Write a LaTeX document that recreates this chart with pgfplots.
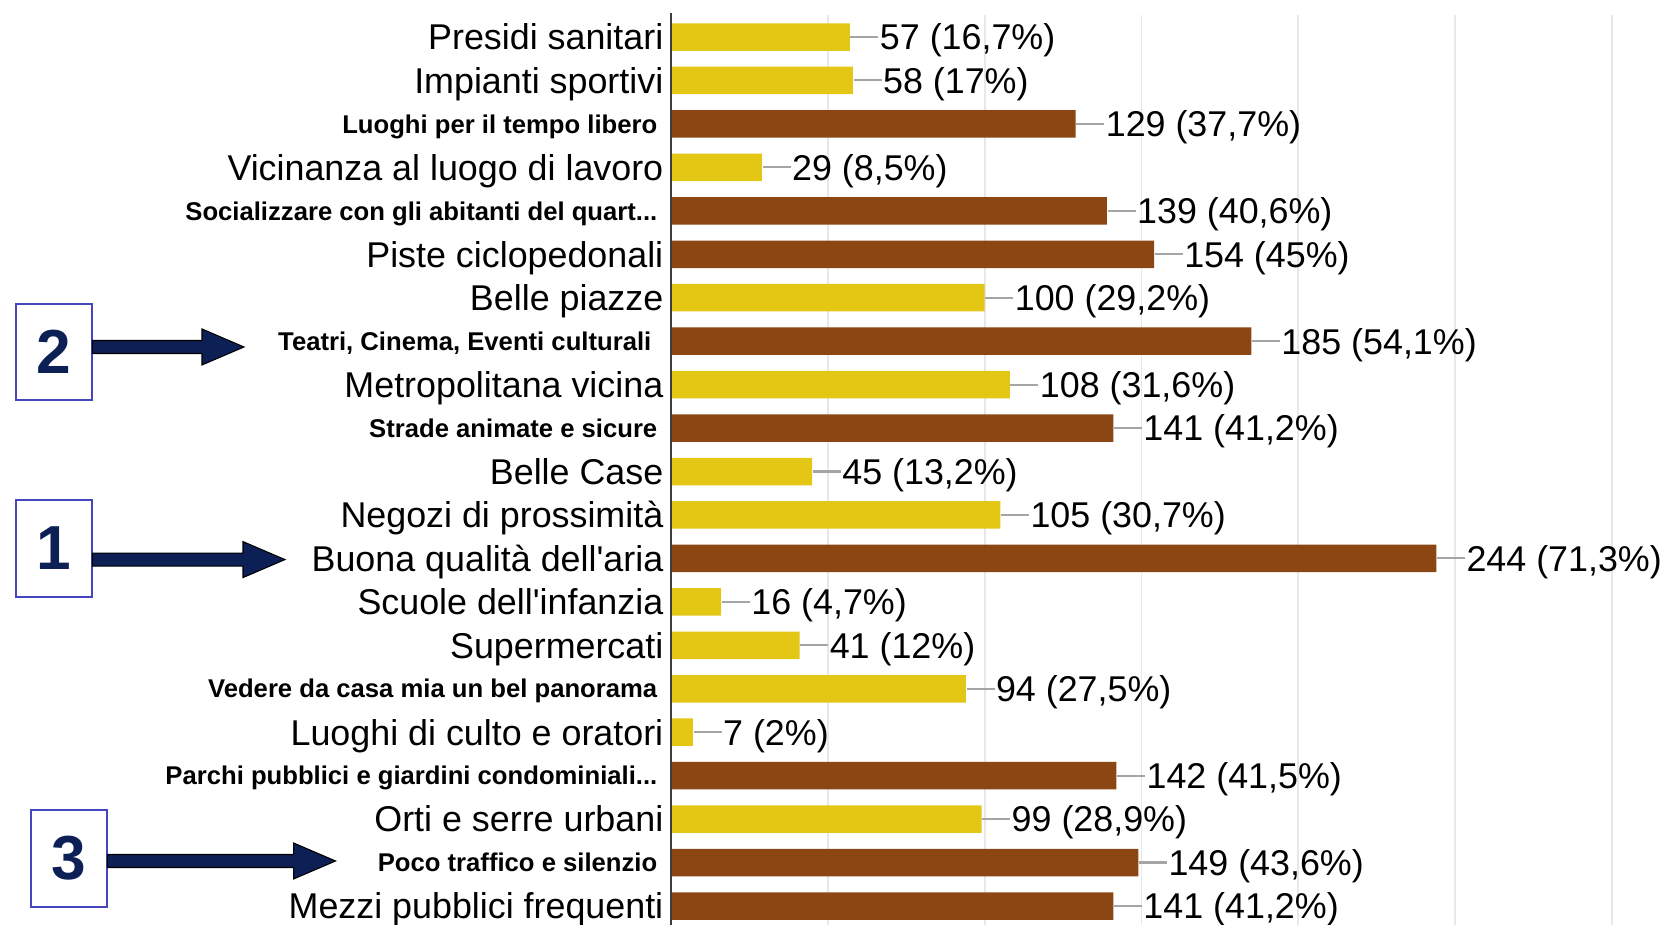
\documentclass[border=0pt]{standalone}
\usepackage{fontspec}
\setmainfont{Liberation Sans}
\usepackage{pgfplots}
\pgfplotsset{compat=1.18}
\definecolor{ybar}{RGB}{228,198,20}
\definecolor{bbar}{RGB}{139,70,20}
\definecolor{navy}{RGB}{12,32,85}
\definecolor{boxblue}{RGB}{70,70,190}
\definecolor{leader}{RGB}{165,165,165}
\definecolor{gridc}{RGB}{232,232,232}
\definecolor{axc}{RGB}{60,60,60}
\newcommand\R[1]{{\fontsize{10.2}{12}\selectfont\rule[-0.284em]{0pt}{1.284em}#1}}
\newcommand\B[1]{{\fontsize{7.3}{9}\selectfont\bfseries\rule[-0.284em]{0pt}{1.284em}#1\kern0.6mm}}
\newcommand\V[1]{{\fontsize{10.2}{12}\selectfont\textcolor{leader}{\rule[0.33em]{2.8mm}{0.6pt}}\hspace{0.15mm}\rule[-0.284em]{0pt}{1.284em}#1}}
\newcommand\arrowshape[3]{% x0, xtip, y (in mm)
  \fill[navy, draw=black, line width=0.3pt]
    (#1mm,#3mm-0.65mm) -- (#2mm-4.2mm,#3mm-0.65mm) -- (#2mm-4.2mm,#3mm-1.8mm)
    -- (#2mm,#3mm) -- (#2mm-4.2mm,#3mm+1.8mm) -- (#2mm-4.2mm,#3mm+0.65mm)
    -- (#1mm,#3mm+0.65mm) -- cycle;}
\begin{document}
\begin{tikzpicture}
\useasboundingbox (0,0) rectangle (166.5mm,92.5mm);
\begin{axis}[
  at={(67.1mm,90.97mm)}, anchor=north west,
  scale only axis, width=94.1mm, height=91.25mm,
  xbar, bar width=2.75mm, bar shift=0pt,
  xmin=0, xmax=300, ymin=-0.5, ymax=20.5, y dir=reverse,
  xtick={50,100,...,300}, xticklabels={}, xmajorgrids,
  grid style={gridc, line width=0.5pt},
  ytick={0,...,20},
  yticklabels={
    {\R{Presidi sanitari}},
    {\R{Impianti sportivi}},
    {\B{Luoghi per il tempo libero}},
    {\R{Vicinanza al luogo di lavoro}},
    {\B{Socializzare con gli abitanti del quart...}},
    {\R{Piste ciclopedonali}},
    {\R{Belle piazze}},
    {\B{Teatri, Cinema, Eventi culturali\kern0.6mm}},
    {\R{Metropolitana vicina}},
    {\B{Strade animate e sicure}},
    {\R{Belle Case}},
    {\R{Negozi di prossimità}},
    {\R{Buona qualità dell\textquotesingle aria}},
    {\R{Scuole dell\textquotesingle infanzia}},
    {\R{Supermercati}},
    {\B{Vedere da casa mia un bel panorama}},
    {\R{Luoghi di culto e oratori}},
    {\B{Parchi pubblici e giardini condominiali...}},
    {\R{Orti e serre urbani}},
    {\B{Poco traffico e silenzio}},
    {\R{Mezzi pubblici frequenti}}
  },
  y tick label style={anchor=east, inner xsep=0.7mm, inner ysep=0pt, text=black},
  major tick length=0pt, tick style={draw=none},
  axis line style={draw=none},
  point meta=explicit symbolic,
  nodes near coords={\V{\pgfplotspointmeta}},
  every node near coord/.append style={anchor=west, inner sep=0pt, text=black},
  clip=false,
]
\addplot[draw=none, fill=ybar] coordinates {
  (57,0) [57 (16,7\%)]
  (58,1) [58 (17\%)]
  (29,3) [29 (8,5\%)]
  (100,6) [100 (29,2\%)]
  (108,8) [108 (31,6\%)]
  (45,10) [45 (13,2\%)]
  (105,11) [105 (30,7\%)]
  (16,13) [16 (4,7\%)]
  (41,14) [41 (12\%)]
  (94,15) [94 (27,5\%)]
  (7,16) [7 (2\%)]
  (99,18) [99 (28,9\%)]
};
\addplot[draw=none, fill=bbar] coordinates {
  (129,2) [129 (37,7\%)]
  (139,4) [139 (40,6\%)]
  (154,5) [154 (45\%)]
  (185,7) [185 (54,1\%)]
  (141,9) [141 (41,2\%)]
  (244,12) [244 (71,3\%)]
  (142,17) [142 (41,5\%)]
  (149,19) [149 (43,6\%)]
  (141,20) [141 (41,2\%)]
};
\draw[axc, line width=0.8pt] (axis cs:0,-0.55) -- (axis cs:0,20.6);
\end{axis}
% annotation boxes
\draw[boxblue, line width=0.6pt] (1.59mm,52.47mm) rectangle (9.24mm,62.13mm);
\node[text=navy, font=\fontsize{17.7}{20}\selectfont\bfseries] at (5.42mm,57.3mm) {2};
\draw[boxblue, line width=0.6pt] (1.59mm,32.82mm) rectangle (9.24mm,42.48mm);
\node[text=navy, font=\fontsize{17.7}{20}\selectfont\bfseries] at (5.42mm,37.65mm) {1};
\draw[boxblue, line width=0.6pt] (3.08mm,1.81mm) rectangle (10.73mm,11.48mm);
\node[text=navy, font=\fontsize{17.7}{20}\selectfont\bfseries] at (6.9mm,6.65mm) {3};
\arrowshape{9.24}{24.4}{57.8}
\arrowshape{9.24}{28.5}{36.54}
\arrowshape{10.73}{33.56}{6.4}
\end{tikzpicture}
\end{document}
